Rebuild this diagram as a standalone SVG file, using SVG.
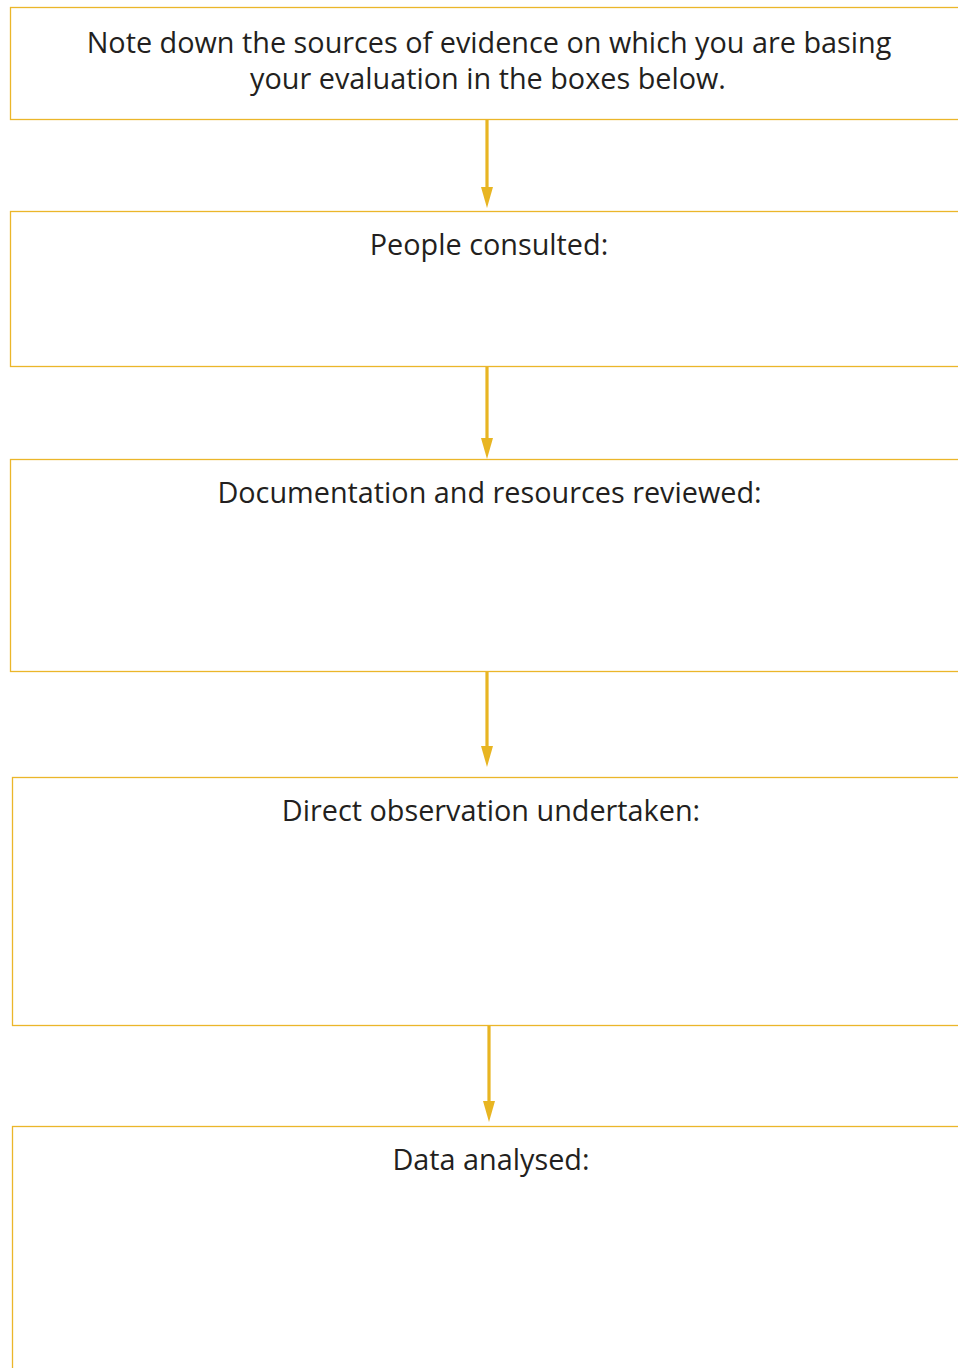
<svg xmlns="http://www.w3.org/2000/svg" width="958" height="1368" viewBox="0 0 958 1368">
<defs>
<style>
.box{fill:#fff;stroke:#EBB62A;stroke-width:1.3}
.t{font-family:"Open Sans","Liberation Sans",sans-serif;font-size:28.8px;fill:#231F20;text-anchor:middle}
.c{stroke:#E8B522;stroke-width:3.2;fill:none}
.h{fill:#E8B522}
</style>
</defs>
<rect width="958" height="1368" fill="#fff"/>
<g id="connectors">
<line class="c" x1="487" y1="120" x2="487" y2="192"/>
<path class="h" d="M481,187 L493,187 L487,208 Z"/>
<line class="c" x1="487" y1="366" x2="487" y2="443"/>
<path class="h" d="M481,438 L493,438 L487,459 Z"/>
<line class="c" x1="487" y1="671" x2="487" y2="751"/>
<path class="h" d="M481,746 L493,746 L487,767 Z"/>
<line class="c" x1="489" y1="1025" x2="489" y2="1106"/>
<path class="h" d="M483,1101 L495,1101 L489,1122 Z"/>
</g>
<g id="n1"><rect class="box" x="10.5" y="7.5" width="960" height="112"/>
<text class="t" x="489" y="53">Note down the sources of evidence on which you are basing</text>
<text class="t" x="488" y="89">your evaluation in the boxes below.</text></g>
<g id="n2"><rect class="box" x="10.5" y="211.5" width="960" height="155"/>
<text class="t" x="489" y="255">People consulted:</text></g>
<g id="n3"><rect class="box" x="10.5" y="459.5" width="960" height="212"/>
<text class="t" x="489.5" y="503">Documentation and resources reviewed:</text></g>
<g id="n4"><rect class="box" x="12.5" y="777.5" width="960" height="248"/>
<text class="t" x="491" y="821">Direct observation undertaken:</text></g>
<g id="n5"><rect class="box" x="12.5" y="1126.5" width="960" height="260"/>
<text class="t" x="491" y="1170">Data analysed:</text></g>
</svg>
